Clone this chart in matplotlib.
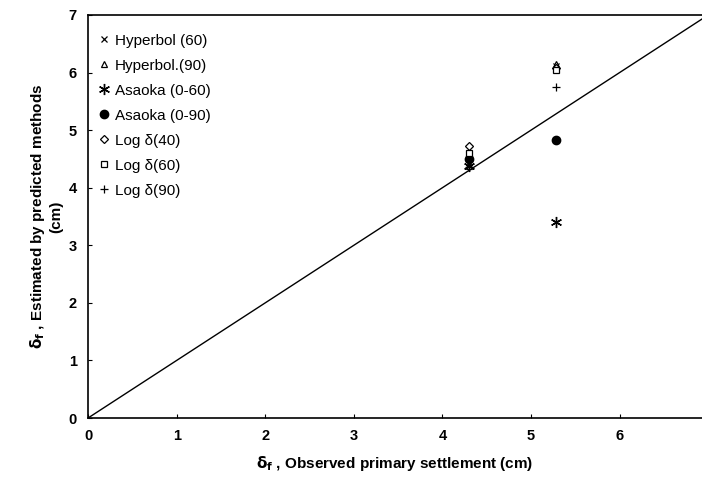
import numpy as np
import matplotlib.pyplot as plt

plt.rcParams['font.family'] = ['Liberation Sans', 'DejaVu Sans']

# observed primary settlement (cm) for the two sites
observed = [4.30, 5.28]

# estimated settlements (cm)
hyp60 = [4.42, 6.12]
hyp90 = [4.38, 6.15]
asa60 = [4.38, 3.40]
asa90 = [4.50, 4.83]
log40 = [4.72, 6.08]
log60 = [4.60, 6.05]
log90 = [4.36, 5.75]

labels = ['Hyperbol (60)', 'Hyperbol.(90)', 'Asaoka (0-60)', 'Asaoka (0-90)',
          'Log δ(40)', 'Log δ(60)', 'Log δ(90)']

fig = plt.figure(figsize=(7.02, 4.79), dpi=100)
ax = fig.add_axes([0.1254, 0.1273, 0.8746, 0.8414])

# 1:1 line
ax.plot([0, 7], [0, 7], color='k', lw=1.0)

kw = dict(color='k', ls='none')
ax.plot(observed, hyp60, marker='x', ms=4, mew=0.9, label=labels[0], **kw)
ax.plot(observed, hyp90, marker='^', ms=4, mfc='white', mew=0.9, label=labels[1], **kw)
ax.plot(observed, asa60, marker=(6, 2, 0), ms=8, mew=1.0, label=labels[2], **kw)
ax.plot(observed, asa90, marker='o', ms=6, label=labels[3], **kw)
ax.plot(observed, log40, marker='D', ms=4, mfc='white', mew=0.9, label=labels[4], **kw)
ax.plot(observed, log60, marker='s', ms=4, mfc='white', mew=0.9, label=labels[5], **kw)
ax.plot(observed, log90, marker='+', ms=6, mew=0.9, label=labels[6], **kw)

ax.set_xlim(0, 6.93)
ax.set_ylim(0, 7)
ax.set_xticks(range(0, 7))
ax.set_yticks(range(0, 8))
ax.tick_params(direction='in', length=3, width=0.8, labelsize=10.5, pad=8)
for t in ax.get_xticklabels() + ax.get_yticklabels():
    t.set_fontweight('bold')
ax.spines['right'].set_visible(False)
for s in ['left', 'bottom', 'top']:
    ax.spines[s].set_linewidth(1.2)

ax.set_xlabel(r'$\mathbf{\delta_f}$ , Observed primary settlement (cm)',
              fontsize=11, fontweight='bold', labelpad=8)
ax.set_ylabel('$\\mathbf{\\delta_f}$ , Estimated by predicted methods\n(cm)',
              fontsize=11, fontweight='bold', labelpad=4)

leg = ax.legend(loc='upper left', bbox_to_anchor=(0.0, 0.98), frameon=False,
                fontsize=11, handlelength=0.7, handletextpad=0.35,
                labelspacing=0.72, borderaxespad=0.3, numpoints=1)

fig.savefig('out.png', dpi=100)
